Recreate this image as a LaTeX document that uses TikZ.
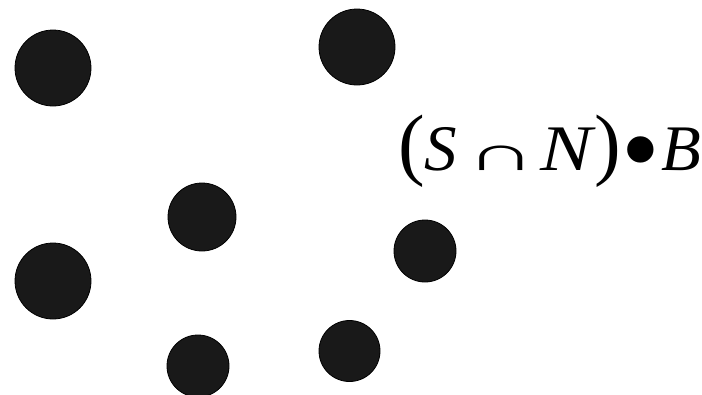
\documentclass[tikz,border=0pt]{standalone}
\usepackage{graphicx}
\usepackage{fontspec}
\setmainfont{Liberation Serif}
\begin{document}
\begin{tikzpicture}[x=1pt,y=-1pt,
  dot/.style={circle,draw=black,line width=0.8pt,fill=black!90,inner sep=0pt}]
\useasboundingbox (0,0) rectangle (702,394);
\node[dot,minimum size=76pt] (c1) at (53,68) {};
\node[dot,minimum size=76pt] (c2) at (357,47) {};
\node[dot,minimum size=68pt] (c3) at (202,217) {};
\node[dot,minimum size=76pt] (c4) at (53,281) {};
\node[dot,minimum size=62pt] (c5) at (425,251) {};
\node[dot,minimum size=62pt] (c6) at (198,366) {};
\node[dot,minimum size=61pt] (c7) at (349.5,351) {};
\node[anchor=base west,inner sep=0pt] (t) at (398,170) {\fontsize{65}{70}\selectfont
  {\fontsize{80}{80}\selectfont(}\textit{S}\hspace{9pt}\scalebox{1.48}[0.75]{∩}\hspace{5pt}\scalebox{1.2}[1]{\textit{N}}\hspace{-2pt}{\fontsize{80}{80}\selectfont)}\hspace{0pt}\raisebox{-16pt}{\scalebox{1.7}{•}}\hspace{2pt}\textit{B}};
\end{tikzpicture}
\end{document}
